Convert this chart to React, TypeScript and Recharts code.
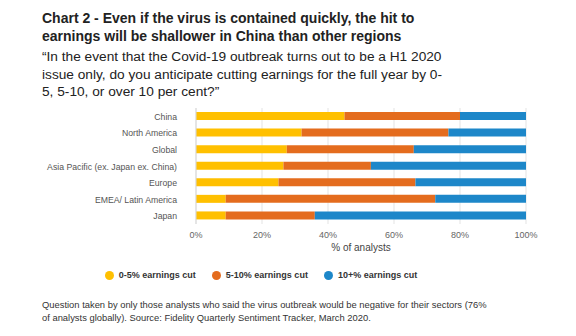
import React from 'react';
import { BarChart, Bar, XAxis, YAxis, CartesianGrid, Legend } from 'recharts';

const regions = [
  'China',
  'North America',
  'Global',
  'Asia Pacific (ex. Japan ex. China)',
  'Europe',
  'EMEA/ Latin America',
  'Japan',
];
const cut0to5 = [45, 32, 27.5, 26.5, 25, 9, 9];
const cut5to10 = [35, 44.5, 38.5, 26.5, 41.5, 63.5, 27];
const cut10plus = [20, 23.5, 34, 47, 33.5, 27.5, 64];
const xTicks = [0, 20, 40, 60, 80, 100];
const seriesNames = ['0-5% earnings cut', '5-10% earnings cut', '10+% earnings cut'];
const seriesColors = ['#FFC000', '#E46C1E', '#1D87C9'];

const data = regions.map((region, i) => ({
  region,
  a: cut0to5[i],
  b: cut5to10[i],
  c: cut10plus[i],
}));

const FONT = '"Liberation Sans", Arial, sans-serif';

// plain right-aligned tick so long labels don't wrap
const RegionTick = (props: any) => {
  const { x, y, payload } = props;
  return (
    <text x={x} y={y} dy={3.5} textAnchor="end" fontSize={8.7} fill="#555" fontFamily={FONT}>
      {payload.value}
    </text>
  );
};

const LegendContent = () => (
  <div style={{ display: 'flex', justifyContent: 'center', gap: 16, fontFamily: FONT, paddingRight: 54 }}>
    {seriesNames.map((name, i) => (
      <div key={name} style={{ display: 'flex', alignItems: 'center' }}>
        <span
          style={{
            display: 'inline-block',
            width: 9,
            height: 9,
            borderRadius: '50%',
            background: seriesColors[i],
            marginRight: 5,
          }}
        />
        <span style={{ fontSize: 9, fontWeight: 'bold', color: '#333' }}>{name}</span>
      </div>
    ))}
  </div>
);

export default function App() {
  return (
    <div
      style={{
        position: 'absolute',
        left: 0,
        top: 0,
        width: 576,
        height: 336,
        background: '#fff',
        fontFamily: FONT,
        overflow: 'hidden',
      }}
    >
      <div style={{ position: 'absolute', left: 42, top: 9, width: 400, fontSize: 14, fontWeight: 'bold', color: '#222', lineHeight: '18px' }}>
        Chart 2 - Even if the virus is contained quickly, the hit to earnings will be shallower in China than other regions
      </div>
      <div style={{ position: 'absolute', left: 42, top: 48, width: 460, fontSize: 13.7, color: '#222', lineHeight: '17.5px', whiteSpace: 'nowrap' }}>
        “In the event that the Covid-19 outbreak turns out to be a H1 2020
        <br />
        issue only, do you anticipate cutting earnings for the full year by 0-
        <br />
        5, 5-10, or over 10 per cent?”
      </div>
      <div style={{ position: 'absolute', left: 0, top: 100 }}>
        <BarChart
          width={576}
          height={190}
          data={data}
          layout="vertical"
          margin={{ top: 8, right: 50, bottom: 26, left: 0 }}
          barCategoryGap="50%"
        >
          <CartesianGrid horizontal={false} stroke="#e3e3e3" />
          <XAxis
            type="number"
            domain={[0, 100]}
            ticks={xTicks}
            tickFormatter={(v: number) => `${v}%`}
            axisLine={false}
            tickLine={false}
            tick={{ fontSize: 9, fill: '#666', fontFamily: FONT }}
            tickMargin={2}
            height={30}
            label={{ value: '% of analysts', position: 'insideBottom', offset: 3, fontSize: 10, fill: '#444', fontFamily: FONT }}
          />
          <YAxis
            type="category"
            dataKey="region"
            width={196}
            axisLine={{ stroke: '#d9d9d9' }}
            tickLine={false}
            tickMargin={13}
            interval={0}
            tick={RegionTick}
          />
          <Legend
            content={LegendContent}
            wrapperStyle={{ position: 'absolute', top: 170, left: 0, width: 576 }}
          />
          <Bar dataKey="a" name={seriesNames[0]} stackId="s" fill={seriesColors[0]} barSize={8} isAnimationActive={false} />
          <Bar dataKey="b" name={seriesNames[1]} stackId="s" fill={seriesColors[1]} barSize={8} isAnimationActive={false} />
          <Bar dataKey="c" name={seriesNames[2]} stackId="s" fill={seriesColors[2]} barSize={8} isAnimationActive={false} />
        </BarChart>
      </div>
      <div style={{ position: 'absolute', left: 42, top: 298, width: 450, fontSize: 9.4, color: '#333', lineHeight: '13px', whiteSpace: 'nowrap' }}>
        Question taken by only those analysts who said the virus outbreak would be negative for their sectors (76%
        <br />
        of analysts globally). Source: Fidelity Quarterly Sentiment Tracker, March 2020.
      </div>
    </div>
  );
}
